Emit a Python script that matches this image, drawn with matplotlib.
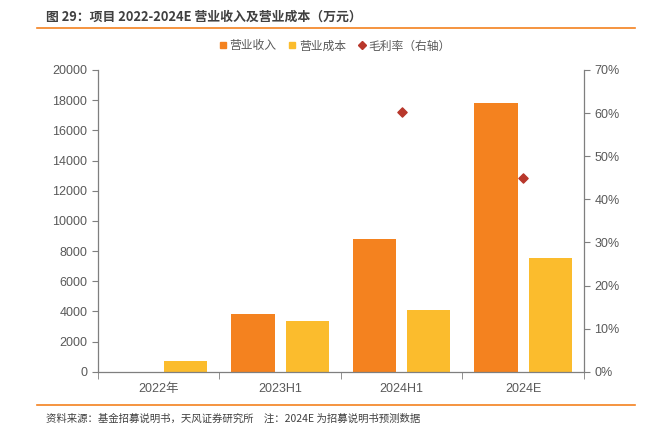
import numpy as np
import matplotlib.pyplot as plt
from matplotlib.lines import Line2D

plt.rcParams['font.family'] = ['Noto Sans CJK SC', 'DejaVu Sans']

categories = ["2022年", "2023H1", "2024H1", "2024E"]
revenue = [0, 3840, 8800, 17800]
cost = [730, 3380, 4100, 7550]
margin = [np.nan, np.nan, 0.602, 0.45]

c_rev = "#F4821F"
c_cost = "#FBBC2D"
c_mar = "#B8372B"
grey = "#595959"
num_font = ['Liberation Sans', 'Noto Sans CJK SC']

fig = plt.figure(figsize=(6.48, 4.37), dpi=100)
ax = fig.add_axes([0.151, 0.149, 0.750, 0.691])
ax2 = ax.twinx()

x = np.arange(len(categories))
w = 0.355
ax.bar(x - 0.045 - w / 2, revenue, w, color=c_rev, zorder=2)
ax.bar(x + 0.045 + w / 2, cost, w, color=c_cost, zorder=2)
ax2.scatter(x, margin, marker="D", s=22, color=c_mar, zorder=3)

ax.set_xlim(-0.5, 3.5)
ax.set_ylim(0, 20000)
ax.set_yticks(np.arange(0, 20001, 2000))
ax2.set_ylim(0, 0.7)
ax2.set_yticks(np.arange(0, 0.71, 0.1))
ax2.set_yticklabels([f"{int(round(v*100))}%" for v in np.arange(0, 0.71, 0.1)])

ax.set_xticks(x)
ax.set_xticklabels(categories)
ax.set_xticks(np.arange(-0.5, 3.6, 1), minor=True)
ax.tick_params(axis="x", which="major", length=0, pad=8)
ax.tick_params(axis="x", which="minor", length=5, color="#7f7f7f")

for a in (ax, ax2):
    for s in a.spines.values():
        s.set_visible(False)
    a.tick_params(axis="y", colors=grey, labelsize=9, length=4, width=0.8)
    a.tick_params(axis="y", color="#7f7f7f")
ax.tick_params(axis="x", colors=grey, labelsize=9)
ax.tick_params(axis="x", which="minor", color="#7f7f7f")
for lab in ax.get_xticklabels() + ax.get_yticklabels() + ax2.get_yticklabels():
    lab.set_family(num_font)
ax.spines["left"].set_visible(True)
ax.spines["bottom"].set_visible(True)
ax2.spines["right"].set_visible(True)
for s in (ax.spines["left"], ax.spines["bottom"], ax2.spines["right"]):
    s.set_color("#7f7f7f")
    s.set_linewidth(0.9)
ax.patch.set_visible(False)

handles = [
    Line2D([], [], marker="s", ls="", color=c_rev, markersize=4.5),
    Line2D([], [], marker="s", ls="", color=c_cost, markersize=4.5),
    Line2D([], [], marker="D", ls="", color=c_mar, markersize=4.5),
]
fig.legend(handles, ["营业收入", "营业成本", "毛利率（右轴）"], loc="center",
           bbox_to_anchor=(0.513, 0.895), ncol=3, frameon=False, fontsize=8.5,
           handletextpad=-0.2, handlelength=1.5, columnspacing=0.6, labelcolor=grey)

fig.text(0.071, 0.962, "图 29：项目 2022-2024E 营业收入及营业成本（万元）", fontsize=9.3,
         fontweight="bold", color="#404040", va="center")
fig.add_artist(Line2D([0.057, 0.98], [0.937, 0.937], color="#F4821F", lw=1.2))
fig.add_artist(Line2D([0.057, 0.98], [0.073, 0.073], color="#F4821F", lw=1.2))
fig.text(0.071, 0.043, "资料来源：基金招募说明书，天风证券研究所　注：2024E 为招募说明书预测数据",
         fontsize=7.5, color="#404040", va="center")

fig.savefig("out.png", dpi=100)
